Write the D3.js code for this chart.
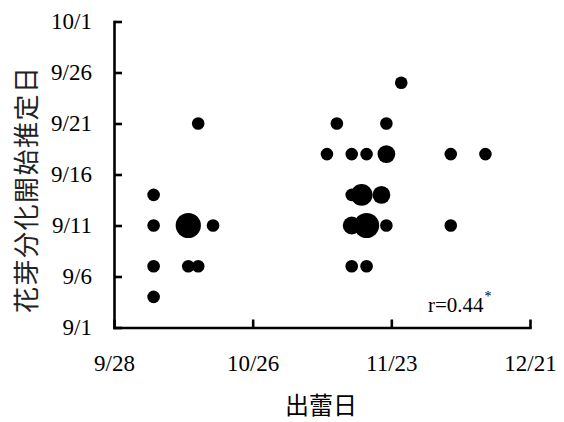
<!DOCTYPE html>
<html>
<head>
<meta charset="utf-8">
<script src="https://cdn.jsdelivr.net/npm/d3@7"></script>
<style>
  body { margin: 0; background: #fff; }
  .tick text { font-family: "Liberation Serif", "Times New Roman", serif; font-size: 23px; fill: #000; }
</style>
</head>
<body>
<svg id="chart" width="564" height="422"></svg>
<script>
// bud appearance date (x), estimated flower bud differentiation date (y), number of overlapping samples
var budDates = ['10/6', '10/6', '10/6', '10/6', '10/13', '10/18', '10/13', '10/15', '10/15',
  '11/25', '11/12', '11/22', '11/10', '11/15', '11/18', '11/22', '12/5', '12/12',
  '11/15', '11/17', '11/21', '11/15', '11/18', '11/22', '12/5', '11/15', '11/18'];
var initDates = ['9/14', '9/11', '9/7', '9/4', '9/11', '9/11', '9/7', '9/7', '9/21',
  '9/25', '9/21', '9/21', '9/18', '9/18', '9/18', '9/18', '9/18', '9/18',
  '9/14', '9/14', '9/14', '9/11', '9/11', '9/11', '9/11', '9/7', '9/7'];
var counts = [1, 1, 1, 1, 4, 1, 1, 1, 1,
  1, 1, 1, 1, 1, 1, 2, 1, 1,
  1, 3, 2, 2, 4, 1, 1, 1, 1];

var xTickLabels = ['9/28', '10/26', '11/23', '12/21'];
var yTickLabels = ['9/1', '9/6', '9/11', '9/16', '9/21', '9/26', '10/1'];

var parse = d3.timeParse('%Y/%m/%d');
function toDate(s) { return parse('2013/' + s); }

var data = budDates.map(function (d, i) {
  return { x: toDate(d), y: toDate(initDates[i]), n: counts[i] };
});

var svg = d3.select('#chart');
var plotLeft = 114, plotRight = 530, plotTop = 21.5, plotBottom = 327.5;

var x = d3.scaleTime()
  .domain([toDate('9/28'), toDate('12/21')])
  .range([plotLeft, plotRight]);
var y = d3.scaleTime()
  .domain([toDate('9/1'), toDate('10/1')])
  .range([plotBottom, plotTop]);
var r = d3.scaleSqrt().domain([0, 1]).range([0, 6.3]);

// x axis, ticks pointing inward
var xAxis = d3.axisBottom(x)
  .tickValues(xTickLabels.map(toDate))
  .tickFormat(function (d, i) { return xTickLabels[i]; })
  .tickSizeInner(-8)
  .tickSizeOuter(0)
  .tickPadding(27);
svg.append('g')
  .attr('transform', 'translate(0,' + plotBottom + ')')
  .call(xAxis);

// y axis
var yAxis = d3.axisLeft(y)
  .tickValues(yTickLabels.map(toDate))
  .tickFormat(function (d, i) { return yTickLabels[i]; })
  .tickSizeInner(-8)
  .tickSizeOuter(0)
  .tickPadding(22);
svg.append('g')
  .attr('transform', 'translate(' + plotLeft + ',0)')
  .call(yAxis);

svg.selectAll('.domain, .tick line')
  .attr('stroke', '#000')
  .attr('stroke-width', 2.6);
svg.selectAll('.domain').attr('stroke-linecap', 'square');

// bubbles
svg.append('g').selectAll('circle')
  .data(data)
  .enter()
  .append('circle')
  .attr('cx', function (d) { return x(d.x); })
  .attr('cy', function (d) { return y(d.y); })
  .attr('r', function (d) { return r(d.n); })
  .attr('fill', '#000');

// correlation label
var rText = svg.append('text')
  .attr('x', 428)
  .attr('y', 312)
  .attr('font-family', '"Liberation Serif", serif')
  .attr('font-size', 21)
  .attr('fill', '#000');
rText.append('tspan').text('r=0.44');
rText.append('tspan')
  .attr('font-size', 14)
  .attr('dx', 1)
  .attr('dy', -11)
  .text('*');

// axis titles
svg.append('text')
  .attr('x', 321)
  .attr('y', 414)
  .attr('text-anchor', 'middle')
  .attr('font-family', '"Noto Sans CJK JP", sans-serif')
  .attr('font-size', 24)
  .attr('fill', '#000')
  .text('出蕾日');

svg.append('text')
  .attr('transform', 'translate(36,190) rotate(-90)')
  .attr('text-anchor', 'middle')
  .attr('font-family', '"Noto Sans CJK JP", sans-serif')
  .attr('font-size', 26)
  .attr('textLength', 246)
  .attr('fill', '#222')
  .text('花芽分化開始推定日');
</script>
</body>
</html>
